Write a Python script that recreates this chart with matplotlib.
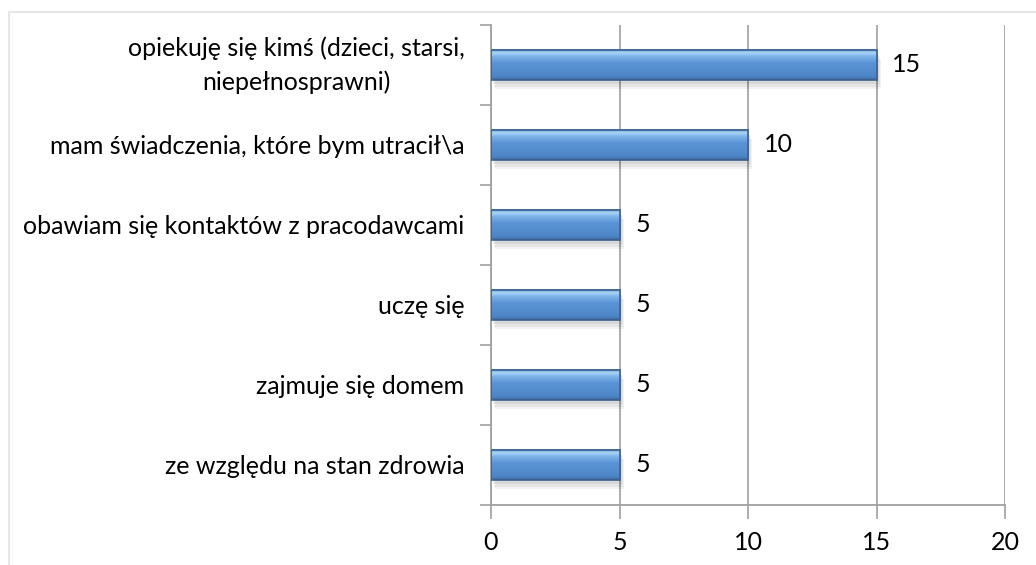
import matplotlib.pyplot as plt
import numpy as np
from matplotlib.colors import LinearSegmentedColormap
from matplotlib.patches import Rectangle

categories = ["ze względu na stan zdrowia",
              "zajmuje się domem",
              "uczę się",
              "obawiam się kontaktów z pracodawcami",
              "mam świadczenia, które bym utracił\\a",
              "opiekuję się kimś (dzieci, starsi,\nniepełnosprawni)"]
values = [5, 5, 5, 5, 10, 15]
xticks = [0, 5, 10, 15, 20]

plt.rcParams['font.family'] = ['Lato', 'DejaVu Sans']

fig = plt.figure(figsize=(10.36, 5.65), dpi=100)
ax = fig.add_axes([491/1036, 1 - 505/565, (1005 - 491)/1036, (505 - 25)/565])

# outer chart frame
fig.patches.append(Rectangle((9/1036, -0.05), 1.1, 1 - 12/565 + 0.05,
                             transform=fig.transFigure, fill=False,
                             edgecolor='#e6e6e6', linewidth=1.5))

# vertical gradient for the bevelled bars
cmap = LinearSegmentedColormap.from_list("bar", [
    (0.0, '#3d6aa0'), (0.12, '#4f86c6'), (0.55, '#5b94d6'),
    (0.78, '#7fb5ea'), (0.88, '#a9d5f6'), (1.0, '#6f9fd0')])
grad = np.linspace(0, 1, 64).reshape(-1, 1)

h = 0.38
y = np.arange(len(categories))
for yi, v in zip(y, values):
    # soft shadow
    for k, a in enumerate([0.05, 0.05, 0.05]):
        d = 0.05 + 0.03 * k
        ax.add_patch(Rectangle((0.08 + 0.04 * k, yi - h/2 - d), v, h,
                               facecolor='#000000', alpha=a,
                               edgecolor='none', zorder=2))
    ax.imshow(grad, cmap=cmap, aspect='auto', origin='lower',
              extent=[0, v, yi - h/2, yi + h/2], zorder=3)
    ax.add_patch(Rectangle((0, yi - h/2), v, h, fill=False,
                           edgecolor='#38618f', linewidth=1.2, zorder=4))
    ax.text(v + 0.62, yi, str(v), va='center', ha='left', fontsize=18,
            color='#000000', zorder=5)

ax.set_xlim(0, 20)
ax.set_ylim(-0.5, len(categories) - 0.5)
ax.set_xticks(xticks)
ax.set_xticklabels([str(t) for t in xticks], fontsize=18)
ax.set_yticks(y)
ax.set_yticklabels(categories, fontsize=18, multialignment='center',
                   linespacing=1.55)
ax.get_yticklabels()[-1].set_va('center')
ax.set_yticks(np.arange(-0.5, len(categories), 1), minor=True)

ax.tick_params(axis='y', which='major', length=0, pad=19)
ax.tick_params(axis='y', which='minor', length=8, color='#a0a0a0', width=1.2)
ax.tick_params(axis='x', length=10, color='#a0a0a0', width=1.2, pad=9)

ax.grid(axis='x', color='#a6a6a6', linewidth=1.3, zorder=0)
ax.set_axisbelow(True)
for s in ['top', 'right']:
    ax.spines[s].set_visible(False)
for s in ['left', 'bottom']:
    ax.spines[s].set_color('#a0a0a0')
    ax.spines[s].set_linewidth(1.3)

fig.savefig('out.png', dpi=100)
